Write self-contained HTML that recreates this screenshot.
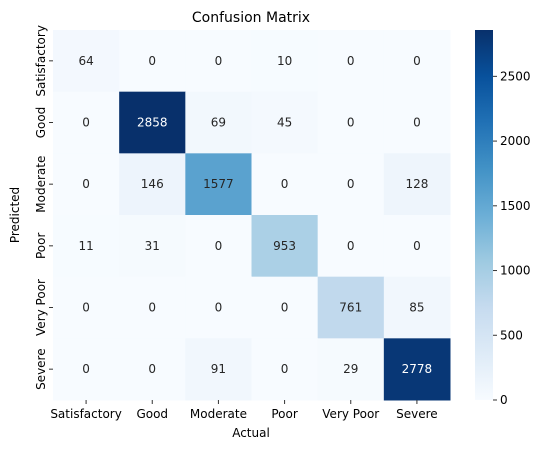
<!DOCTYPE html>
<html><head><meta charset="utf-8"><style>
body{margin:0;background:#fff;}
svg text{font-family:"DejaVu Sans","Liberation Sans",sans-serif;}
</style></head><body>
<svg id="chart" width="548" height="453" xmlns="http://www.w3.org/2000/svg">
<defs><linearGradient id="cbg" x1="0" y1="1" x2="0" y2="0">
<stop offset="0" stop-color="#f7fbff"/><stop offset="0.125" stop-color="#deebf7"/><stop offset="0.25" stop-color="#c6dbef"/><stop offset="0.375" stop-color="#9ecae1"/><stop offset="0.5" stop-color="#6baed6"/><stop offset="0.625" stop-color="#4292c6"/><stop offset="0.75" stop-color="#2171b5"/><stop offset="0.875" stop-color="#08519c"/><stop offset="1" stop-color="#08306b"/>
</linearGradient></defs>
<text x="251" y="22" text-anchor="middle" font-size="14">Confusion Matrix</text>
<g id="cells"></g>
<rect x="475" y="30" width="18" height="370" fill="url(#cbg)"/>
<g id="cbticks"></g>
<text x="251" y="437" text-anchor="middle" font-size="12">Actual</text>
<text transform="translate(19,215) rotate(-90)" text-anchor="middle" font-size="12">Predicted</text>
</svg>
<script>
const categories=["Satisfactory","Good","Moderate","Poor","Very Poor","Severe"];
const row0=[64,0,0,10,0,0];
const row1=[0,2858,69,45,0,0];
const row2=[0,146,1577,0,0,128];
const row3=[11,31,0,953,0,0];
const row4=[0,0,0,0,761,85];
const row5=[0,0,91,0,29,2778];
const cbTicks=[0,500,1000,1500,2000,2500];
const matrix=[row0,row1,row2,row3,row4,row5];
const X0=53,Y0=30,W=397,H=370;
const vmax=Math.max(...matrix.flat());
const stops=["#f7fbff","#deebf7","#c6dbef","#9ecae1","#6baed6","#4292c6","#2171b5","#08519c","#08306b"];
function hx(c){return [1,3,5].map(i=>parseInt(c.substr(i,2),16));}
function color(v){let t=v/vmax*8;let i=Math.min(7,Math.floor(t));let f=t-i;let a=hx(stops[i]),b=hx(stops[i+1]);return a.map((x,k)=>Math.round(a[k]+(b[k]-a[k])*f));}
const n=categories.length,cw=W/n,ch=H/n;
const ns="http://www.w3.org/2000/svg";
const svg=document.getElementById('chart'),g=document.getElementById('cells');
function mk(t,at,par){const e=document.createElementNS(ns,t);for(const k in at)e.setAttribute(k,at[k]);(par||svg).appendChild(e);return e;}
matrix.forEach((row,r)=>row.forEach((v,c)=>{
 const rgb=color(v);
 const rect=mk('rect',{x:X0+c*cw,y:Y0+r*ch,width:cw+0.5,height:ch+0.5,fill:`rgb(${rgb})`},g);
 
 
 const lum=(0.299*rgb[0]+0.587*rgb[1]+0.114*rgb[2])/255;
 const t=mk('text',{x:X0+(c+.5)*cw,y:Y0+(r+.5)*ch+4,'text-anchor':'middle','font-size':12,fill:lum<0.5?'#fff':'#262626'},g);
 t.textContent=v;
 
 
}));
categories.forEach((c,i)=>{
 const x=X0+(i+.5)*cw;
 mk('line',{x1:x,x2:x,y1:Y0+H,y2:Y0+H+4,stroke:'#333'});
 const t=mk('text',{x:x,y:Y0+H+18,'text-anchor':'middle','font-size':12});
 t.textContent=c;
 
 
 const y=Y0+(i+.5)*ch;
 mk('line',{x1:X0-4,x2:X0,y1:y,y2:y,stroke:'#333'});
 const t2=mk('text',{transform:`translate(${X0-8},${y}) rotate(-90)`,'text-anchor':'middle','font-size':12});
 t2.textContent=c;
 
 
});
const cb=document.getElementById('cbticks');
cbTicks.forEach(v=>{
 const y=Y0+H-v/vmax*H;
 mk('line',{x1:493,x2:497,y1:y,y2:y,stroke:'#333'},cb);
 const t=mk('text',{x:500,y:y+4,'font-size':12},cb);
 t.textContent=v;
 
 
});
</script>
</body></html>
